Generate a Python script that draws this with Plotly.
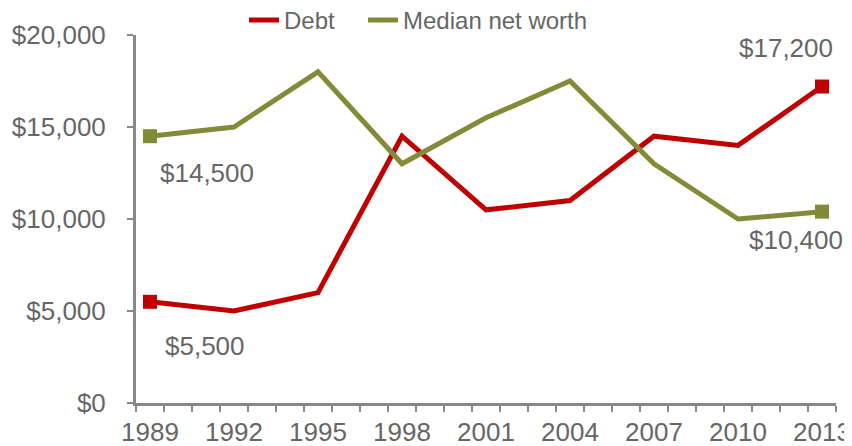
import plotly.graph_objects as go

years = [1989, 1992, 1995, 1998, 2001, 2004, 2007, 2010, 2013]
debt = [5500, 5000, 6000, 14500, 10500, 11000, 14500, 14000, 17200]
net_worth = [14500, 15000, 18000, 13000, 15500, 17500, 13000, 10000, 10400]
y_ticks = [0, 5000, 10000, 15000, 20000]
y_tick_labels = ["$0", "$5,000", "$10,000", "$15,000", "$20,000"]
x_tick_labels = [str(y) for y in years]

RED = "#C00000"
OLIVE = "#848B38"
TXT = "#666666"
AX = "#888888"
FONT = "Liberation Sans, Arial, sans-serif"
FS = 26

fig = go.Figure()
fig.add_trace(go.Scatter(x=years, y=debt, mode="lines", name="Debt",
                         line=dict(color=RED, width=5), legend="legend"))
fig.add_trace(go.Scatter(x=years, y=net_worth, mode="lines", name="Median net worth",
                         line=dict(color=OLIVE, width=5), legend="legend2"))
fig.add_trace(go.Scatter(x=[years[0], years[-1]], y=[debt[0], debt[-1]], mode="markers",
                         marker=dict(symbol="square", size=14, color=RED), showlegend=False))
fig.add_trace(go.Scatter(x=[years[0], years[-1]], y=[net_worth[0], net_worth[-1]], mode="markers",
                         marker=dict(symbol="square", size=14, color=OLIVE), showlegend=False))

def fmt(v):
    return "${:,}".format(v)

ann = [
    (years[0], net_worth[0], 57, -37),
    (years[0], debt[0], 55, -44),
    (years[-1], debt[-1], -36, 39),
    (years[-1], net_worth[-1], -26, -28),
]
for x, y, xs, ys in ann:
    fig.add_annotation(x=x, y=y, text=fmt(y), showarrow=False, xshift=xs, yshift=ys,
                       font=dict(size=FS, color=TXT, family=FONT))

leg_common = dict(orientation="h", xanchor="left", y=1.04, yanchor="middle",
                  font=dict(size=24, color=TXT), bgcolor="rgba(0,0,0,0)")

# page body has an 8px default margin, so the figure is sized/shifted to compensate
fig.update_layout(
    width=844, height=438,
    margin=dict(l=128, r=16, t=27, b=43, autoexpand=False),
    paper_bgcolor="white", plot_bgcolor="white",
    font=dict(family=FONT, size=FS, color=TXT),
    showlegend=True,
    legend=dict(x=0.1543, **leg_common),
    legend2=dict(x=0.3243, **leg_common),
)
fig.update_xaxes(
    range=[1988.5, 2013.5], tickvals=years, ticktext=x_tick_labels, ticks="",
    showline=True, linecolor=AX, linewidth=3, showgrid=False, zeroline=False,
    tickfont=dict(size=FS, color=TXT), automargin=False, ticklabelstandoff=4,
    minor=dict(tick0=1988.5, dtick=1, ticks="outside", ticklen=6, tickwidth=2,
               tickcolor=AX, showgrid=False),
)
fig.update_yaxes(
    range=[0, 20000], tickvals=y_ticks, ticktext=y_tick_labels, ticks="outside",
    ticklen=6, tickwidth=2, tickcolor=AX, automargin=False, ticklabelstandoff=16,
    showline=True, linecolor=AX, linewidth=3, showgrid=False, zeroline=False,
    tickfont=dict(size=FS, color=TXT),
)

fig.write_html("out.html")
